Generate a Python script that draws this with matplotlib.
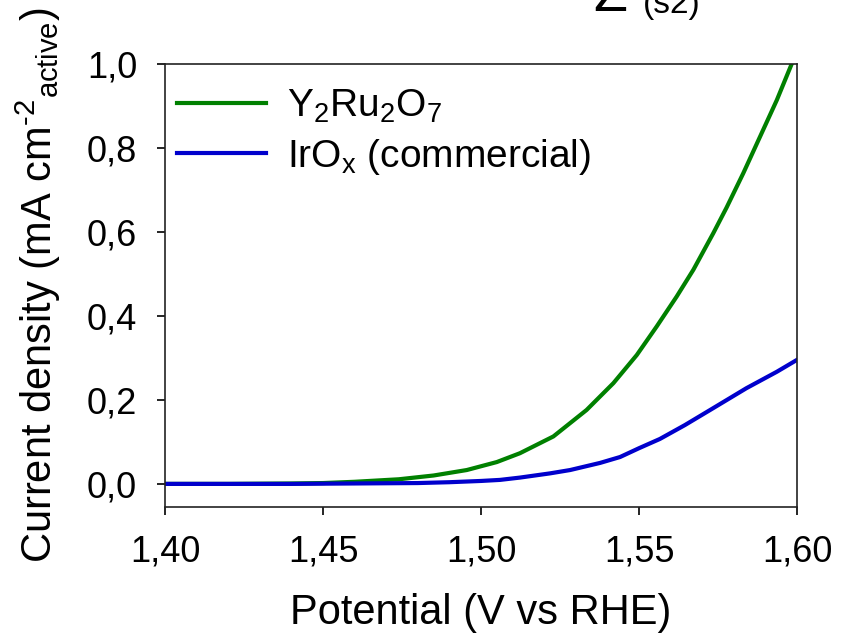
import matplotlib
matplotlib.use("Agg")
import matplotlib.pyplot as plt

# LSV curves
potential_y2ru2o7 = [1.40, 1.42, 1.44, 1.45, 1.46, 1.474, 1.485, 1.4955, 1.505, 1.5123, 1.5229,
                     1.5334, 1.5419, 1.5493, 1.5556, 1.5619, 1.5672, 1.5735, 1.5777, 1.583,
                     1.5883, 1.5936, 1.5983]
current_y2ru2o7 = [0.0, 0.0, 0.001, 0.002, 0.005, 0.011, 0.02, 0.033, 0.052, 0.073, 0.113,
                   0.176, 0.240, 0.307, 0.375, 0.446, 0.510, 0.597, 0.658, 0.740,
                   0.827, 0.914, 1.0]

potential_irox = [1.40, 1.42, 1.44, 1.46, 1.48, 1.49, 1.50, 1.506, 1.5123, 1.5218, 1.5282,
                  1.5377, 1.544, 1.55, 1.5566, 1.5645, 1.5725, 1.584, 1.5936, 1.5999]
current_irox = [0.0, 0.0, 0.0, 0.001, 0.002, 0.004, 0.007, 0.0095, 0.015, 0.025, 0.033,
                0.05, 0.064, 0.085, 0.107, 0.14, 0.176, 0.228, 0.267, 0.295]

xticks = [1.40, 1.45, 1.50, 1.55, 1.60]
xtick_labels = ["1,40", "1,45", "1,50", "1,55", "1,60"]
yticks = [0.0, 0.2, 0.4, 0.6, 0.8, 1.0]
ytick_labels = ["0,0", "0,2", "0,4", "0,6", "0,8", "1,0"]

plt.rcParams["font.family"] = ["Liberation Sans", "DejaVu Sans"]
plt.rcParams["mathtext.default"] = "regular"

fig = plt.figure(figsize=(8.47, 6.35), dpi=100)
ax = fig.add_axes([0.1948, 0.2016, 0.7462, 0.6976])

ax.plot(potential_y2ru2o7, current_y2ru2o7, color="#008000", lw=3, label="Y$_2$Ru$_2$O$_7$")
ax.plot(potential_irox, current_irox, color="#0000CC", lw=3, label="IrO$_x$ (commercial)")

ax.set_xlim(1.40, 1.60)
ax.set_ylim(-0.055, 1.0)
ax.set_xticks(xticks)
ax.set_xticklabels(xtick_labels)
ax.set_yticks(yticks)
ax.set_yticklabels(ytick_labels)
ax.tick_params(axis="both", direction="out", length=6, width=1.2, labelsize=26, colors="black")
ax.tick_params(axis="x", pad=13.5)
ax.tick_params(axis="y", pad=14)
for sp in ax.spines.values():
    sp.set_linewidth(1.2)
    sp.set_color("#222222")

ax.set_xlabel("Potential (V vs RHE)", fontsize=30, labelpad=17)
ax.set_ylabel("Current density (mA cm$^{\u20102}$$_{active}$)", fontsize=30, labelpad=17)

ax.legend(loc="upper left", frameon=False, fontsize=28, handlelength=2.31,
          handletextpad=0.54, labelspacing=0.3, borderaxespad=0.0, borderpad=0.3,
          bbox_to_anchor=(0.0, 0.973))

# panel label clipped by the top edge
fig.text(593 / 847, 1 - 11 / 635, "Z", fontsize=40, va="baseline", ha="left")
fig.text(643 / 847, 1 - 13 / 635, "(s2)", fontsize=24, va="baseline", ha="left")

fig.savefig("out.png", dpi=100)
